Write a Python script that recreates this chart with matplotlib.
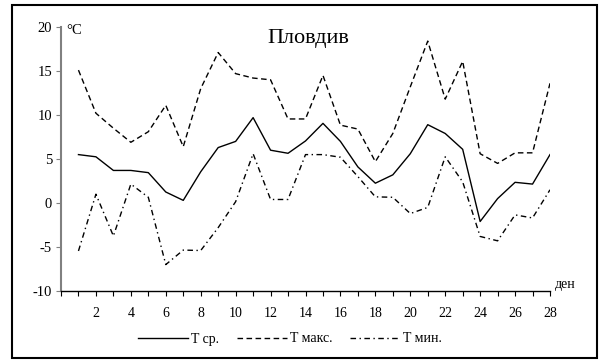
import matplotlib
matplotlib.use("Agg")
import matplotlib.pyplot as plt
from matplotlib.lines import Line2D
from matplotlib.patches import Rectangle

plt.rcParams['font.family'] = ['Liberation Serif', 'DejaVu Serif']

days = list(range(1, 29))
t_avg = [5.5, 5.25, 3.7, 3.7, 3.45, 1.25, 0.3, 3.55, 6.3, 7.0, 9.7, 6.0, 5.65, 7.05,
         9.05, 7.0, 4.1, 2.25, 3.2, 5.6, 8.9, 7.9, 6.1, -2.1, 0.5, 2.35, 2.15, 5.5]
t_max = [15.1, 10.2, 8.5, 6.9, 8.1, 11.1, 6.4, 13.0, 17.1, 14.7, 14.2, 14.0, 9.55, 9.55,
         14.5, 8.85, 8.4, 4.7, 7.9, 13.2, 18.4, 11.8, 16.1, 5.6, 4.5, 5.7, 5.7, 13.6]
t_min = [-5.45, 1.0, -3.75, 2.15, 0.65, -7.0, -5.35, -5.4, -2.8, 0.15, 5.6, 0.4, 0.4, 5.5,
         5.5, 5.2, 3.0, 0.7, 0.65, -1.2, -0.5, 5.25, 2.4, -3.8, -4.3, -1.35, -1.7, 1.5]
labels = ['T ср.', 'T макс.', 'T мин.']
title = 'Пловдив'
y_ticks = [-10, -5, 0, 5, 10, 15, 20]

fig = plt.figure(figsize=(6, 3.6), dpi=100)
ax = fig.add_axes([61/600, 1-291/360, (550-61)/600, (291-27)/360])

ax.plot(days, t_avg, color='black', lw=1.0, ls='-', label=labels[0])
ax.plot(days, t_max, color='black', lw=1.0, ls=(0, (4, 2.5)), label=labels[1])
ax.plot(days, t_min, color='black', lw=1.0, ls=(0, (4, 2.5, 1, 2.5)), label=labels[2])

ax.set_xlim(0, 28)
ax.set_ylim(-10, 20)
ax.set_xticks(range(0, 29))
ax.set_xticklabels(['' if d % 2 or d == 0 else str(d) for d in range(0, 29)])
ax.set_yticks(y_ticks)
ax.set_yticklabels([str(v) for v in y_ticks])
for s in ['top', 'right']:
    ax.spines[s].set_visible(False)
ax.spines['left'].set_color('#808080')
ax.spines['left'].set_linewidth(1.5)
ax.spines['bottom'].set_color('black')
ax.spines['bottom'].set_linewidth(1.0)
ax.tick_params(axis='x', direction='out', length=3.5, width=0.8, pad=8, labelsize=10, color='black')
ax.tick_params(axis='y', direction='out', length=3.5, width=0.8, pad=3, labelsize=10.5, color='#808080')
ax.patch.set_visible(False)

ax.text(0.01, 1.01, '°C', transform=ax.transAxes, fontsize=10.5, ha='left', va='top')
ax.text(1.01, 0.0, 'ден', transform=ax.transAxes, fontsize=10, ha='left', va='bottom')
fig.text(308/600, 1-38/360, title, fontsize=16, ha='center', va='center')

handles = [Line2D([], [], color='black', lw=1.0, ls='-'),
           Line2D([], [], color='black', lw=1.0, ls=(0, (4, 2.5))),
           Line2D([], [], color='black', lw=1.0, ls=(0, (4, 2.5, 1, 2.5)))]
fig.legend(handles, labels, loc='center', bbox_to_anchor=(290/600, 1-339/360), ncol=3,
           frameon=False, fontsize=10, handlelength=3.6, handletextpad=0.2, columnspacing=1.3)

fig.patches.append(Rectangle((11.5/600, 2/360), (597-11.5)/600, (355-2)/360,
                             transform=fig.transFigure, fill=False, edgecolor='black', lw=1.5))

fig.savefig('out.png', dpi=100)
